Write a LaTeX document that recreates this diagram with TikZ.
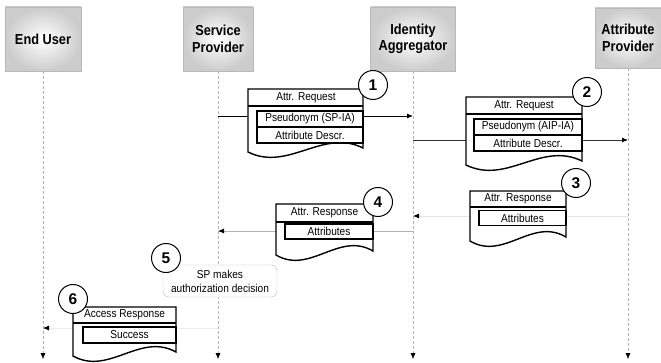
\documentclass[tikz,border=0pt]{standalone}
\usepackage{fontspec}
\setmainfont{Liberation Sans}
\newfontfamily\narrowsans[FakeStretch=0.88]{Liberation Sans}
\usetikzlibrary{arrows.meta}

\begin{document}
\begin{tikzpicture}[x=1pt,y=-1pt,
    actor/.style={draw=gray!55, shading=radial, inner color=white, outer color=gray!40,
        align=center, inner sep=0pt, font=\narrowsans\fontsize{14.5}{16.5}\selectfont\bfseries},
    life/.style={draw=gray!60, dash pattern=on 3pt off 2pt, -{Latex[length=6pt,width=5pt,color=black]}},
    msg/.style={line width=0.8pt, -{Latex[length=6pt,width=5pt,color=black]}},
    doc/.style={draw=black, line width=1.4pt, fill=white},
    head/.style={inner sep=0pt, font=\narrowsans\fontsize{11.5}{12}\selectfont},
    field/.style={draw=black, line width=1.4pt, fill=white, inner sep=0pt, font=\narrowsans\fontsize{11.5}{12}\selectfont},
    num/.style={circle, draw=black, line width=1pt, fill=white, minimum size=29pt, inner sep=0pt,
        font=\fontsize{15.5}{15.5}\selectfont\bfseries},
    note/.style={draw=gray!55, rounded corners=6pt, fill=white, align=center, inner sep=0pt,
        font=\narrowsans\fontsize{11.5}{14}\selectfont}]
    \useasboundingbox (0,0) rectangle (661,363);

    % Define actors
    \node[actor, minimum width=76pt, minimum height=64pt] (eu) at (43,39) {End User};
    \node[actor, minimum width=70pt, minimum height=64pt] (sp) at (218,39) {Service\\Provider};
    \node[actor, minimum width=85pt, minimum height=64pt] (ia) at (413,39) {Identity\\Aggregator};
    \node[actor, minimum width=66pt, minimum height=60pt] (ap) at (628,38) {Attribute\\Provider};

    % Lifelines
    \coordinate (eu-end) at (43,359);
    \coordinate (sp-end) at (218,359);
    \coordinate (ia-end) at (413,359);
    \coordinate (ap-end) at (628,359);
    \draw[life] (eu) -- (eu-end);
    \draw[life] (sp) -- (sp-end);
    \draw[life] (ia) -- (ia-end);
    \draw[life] (ap) -- (ap-end);

    % Message end points
    \coordinate (sp-m1) at (218,116);
    \coordinate (ia-m1) at (413,116);
    \coordinate (ia-m2) at (413,140);
    \coordinate (ap-m2) at (628,140);
    \coordinate (ap-m3) at (628,216);
    \coordinate (ia-m3) at (413,216);
    \coordinate (ia-m4) at (413,231);
    \coordinate (sp-m4) at (218,231);
    \coordinate (sp-m6) at (218,328);
    \coordinate (eu-m6) at (43,328);

    % Draw messages with arrows
    \draw[msg] (sp-m1) -- (ia-m1);
    \draw[msg, draw=black!80] (ia-m2) -- (ap-m2);
    \draw[msg, draw=gray!20] (ap-m3) -- (ia-m3);
    \draw[msg, draw=gray!60] (ia-m4) -- (sp-m4);
    \draw[msg, draw=gray!15] (sp-m6) -- (eu-m6);

    % Message 1
    \draw[doc] (248,89) -- (363,89) -- (363,148) .. controls (323,128) and (288,172) .. (248,152) -- cycle;
    \draw[doc] (248,106) -- (363,106);
    \node[head] (req1) at (306,97.5) {Attr. Request};
    \node[field, minimum width=106pt, minimum height=16pt] (psd1) at (310,119) {Pseudonym (SP-IA)};
    \node[field, minimum width=106pt, minimum height=16pt] (dsc1) at (310,135) {Attribute Descr.};
    \node[num] (n1) at (373,85) {1};

    % Message 2
    \draw[doc] (466,97) -- (582,97) -- (582,161) .. controls (541,141) and (507,185) .. (466,165) -- cycle;
    \draw[doc] (466,114) -- (582,114);
    \node[head] (req2) at (524,105.5) {Attr. Request};
    \node[field, minimum width=108pt, minimum height=16pt] (psd2) at (528,127) {Pseudonym (AIP-IA)};
    \node[field, minimum width=108pt, minimum height=16pt] (dsc2) at (528,143) {Attribute Descr.};
    \node[num] (n2) at (587,92) {2};

    % Message 3
    \draw[doc] (470,191) -- (566,191) -- (566,237) .. controls (532,217) and (504,261) .. (470,241) -- cycle;
    \draw[doc] (470,207) -- (566,207);
    \node[head] (rsp3) at (518,199) {Attr. Response};
    \node[field, minimum width=87pt, minimum height=15pt] (att3) at (522.5,218) {Attributes};
    \node[num] (n3) at (576,183) {3};

    % Message 4
    \draw[doc] (276,204) -- (373,204) -- (373,251) .. controls (339,231) and (310,275) .. (276,255) -- cycle;
    \draw[doc] (276,222) -- (373,222);
    \node[head] (rsp4) at (324.5,213) {Attr. Response};
    \node[field, minimum width=88pt, minimum height=15pt] (att4) at (329,231.5) {Attributes};
    \node[num] (n4) at (378,202) {4};

    % Step 5
    \node[note, minimum width=114pt, minimum height=32pt] (dec) at (220,281) {SP makes\\authorization decision};
    \node[num] (n5) at (166,258) {5};

    % Message 6
    \draw[doc] (73,307) -- (176,307) -- (176,352) .. controls (140,332) and (109,376) .. (73,356) -- cycle;
    \draw[doc] (73,323) -- (176,323);
    \node[head] (rsp6) at (124.5,315) {Access Response};
    \node[field, minimum width=93pt, minimum height=16pt] (ok6) at (129.5,335) {Success};
    \node[num] (n6) at (73,299) {6};
\end{tikzpicture}
\end{document}
